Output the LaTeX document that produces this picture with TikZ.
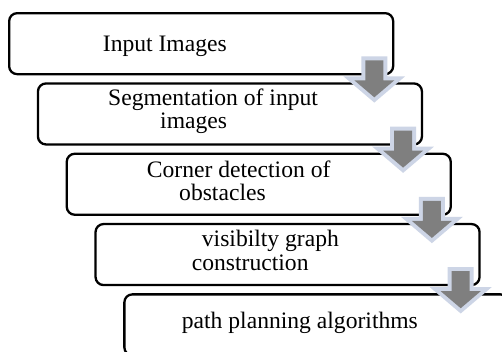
\documentclass[tikz,border=0pt]{standalone}
\usepackage{fontspec}
\setmainfont{Liberation Serif}
\usetikzlibrary{calc}
\definecolor{arrowgray}{HTML}{7F7F7F}
\definecolor{arrowlight}{HTML}{CDD5E6}
\tikzset{
  stagebox/.style={draw=black, line width=2.3bp, rounded corners=8bp, fill=white,
    minimum width=384bp, minimum height=61bp, anchor=north west, inner sep=0pt},
  stagetext/.style={anchor=base west, inner sep=0pt, font=\fontsize{23.6bp}{23bp}\selectfont},
  blockarrow/.pic={
    \path[fill=arrowgray, preaction={draw=arrowlight, line width=8bp, line join=miter}]
      (-9,0) -- (9,0) -- (9,20) -- (20,20) -- (0,37) -- (-20,20) -- (-9,20) -- cycle;
  }
}
\begin{document}
\begin{tikzpicture}[x=1bp, y=-1bp]
\useasboundingbox (0,0) rectangle (502,351);
\clip (0,0) rectangle (502,351);
\fill[white] (0,0) rectangle (502,351);
% boxes
\node[stagebox] (b1) at (8,12) {};
\node[stagebox] (b2) at (36.8,82.3) {};
\node[stagebox] (b3) at (65.6,152.6) {};
\node[stagebox] (b4) at (94.4,222.9) {};
\node[stagebox] (b5) at (123.2,293.2) {};
% texts
\node[stagetext] (t1) at (102.7,51) {Input Images};
\node[stagetext] (t2a) at (108,105) {Segmentation of input};
\node[stagetext] (t2b) at (160,128.5) {images};
\node[stagetext] (t3a) at (146.7,177.5) {Corner detection of};
\node[stagetext] (t3b) at (179,200) {obstacles};
\node[stagetext] (t4a) at (201.7,246.7) {visibilty graph};
\node[stagetext] (t4b) at (191.7,270) {construction};
\node[stagetext] (t5) at (181.7,328) {path planning algorithms};
% arrows
\coordinate (a1) at ($(b1.south east)+(-20,-15)$);
\coordinate (a2) at ($(b2.south east)+(-20,-15)$);
\coordinate (a3) at ($(b3.south east)+(-20,-15)$);
\coordinate (a4) at ($(b4.south east)+(-20,-15)$);
\pic at (a1) {blockarrow};
\pic at (a2) {blockarrow};
\pic at (a3) {blockarrow};
\pic at (a4) {blockarrow};
\end{tikzpicture}
\end{document}
